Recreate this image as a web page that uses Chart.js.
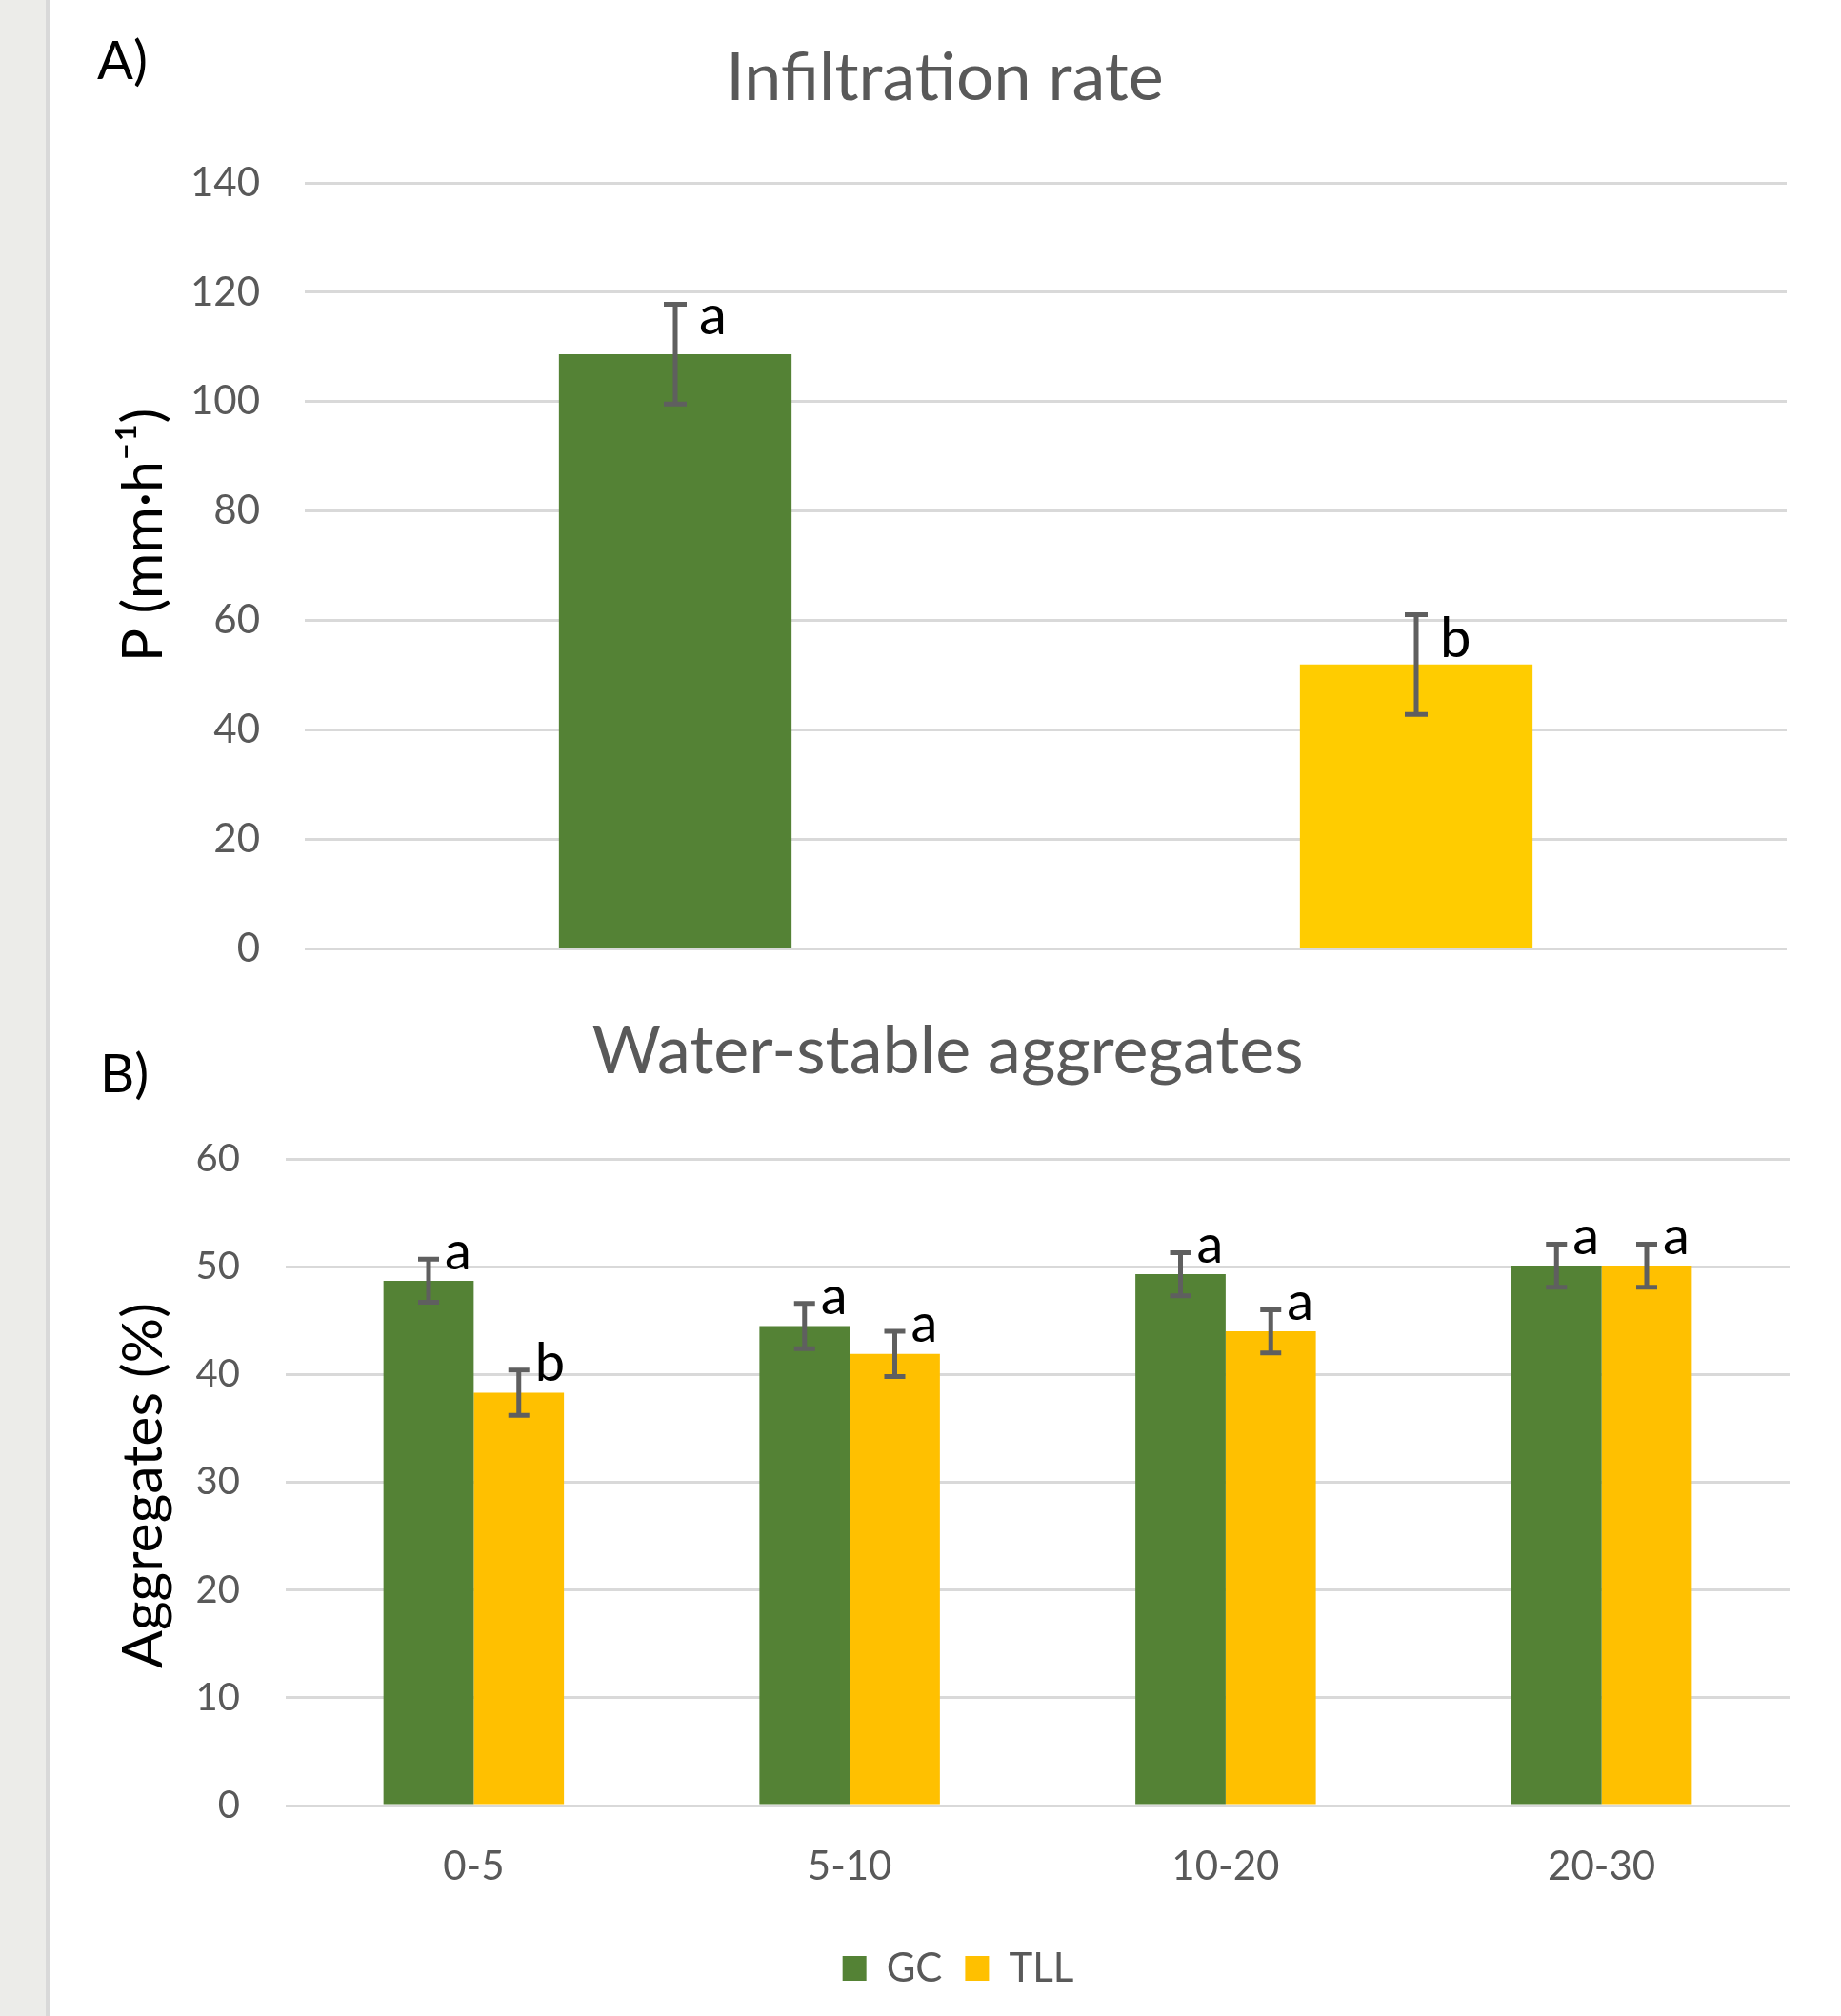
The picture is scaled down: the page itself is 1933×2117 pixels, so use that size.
<!DOCTYPE html>
<html>
<head>
<meta charset="utf-8">
<script src="https://cdn.jsdelivr.net/npm/chart.js@4.4.1/dist/chart.umd.min.js"></script>
<style>
  body { margin: 0; width: 1933px; height: 2117px; background: #fff; position: relative; overflow: hidden; }
  #strip { position: absolute; left: 0; top: 0; width: 48px; height: 2117px; background: #ecece9; border-right: 5px solid #d9d9d9; z-index: 2; }
  #wrapA { position: absolute; left: 0; top: 0; }
  #wrapB { position: absolute; left: 0; top: 1030px; }
</style>
</head>
<body>
<div id="strip"></div>
<div id="wrapA"><canvas id="chartA" width="1933" height="1069"></canvas></div>
<div id="wrapB"><canvas id="chartB" width="1933" height="1087"></canvas></div>
<script>
// panel A - infiltration rate
const infilLabels = ["GC", "TLL"];
const infilMeans = [108.7, 52.0];
const infilErrors = [9.1, 9.1];
const infilLetters = ["a", "b"];
const infilColors = ["#548235", "#ffcc00"];

// panel B - water-stable aggregates by depth
const depthLabels = ["0-5", "5-10", "10-20", "20-30"];
const gcMeans = [48.7, 44.5, 49.3, 50.1];
const gcErrors = [2.0, 2.1, 2.0, 2.0];
const gcLetters = ["a", "a", "a", "a"];
const tllMeans = [38.3, 41.9, 44.0, 50.1];
const tllErrors = [2.1, 2.1, 2.0, 2.0];
const tllLetters = ["b", "a", "a", "a"];

Chart.defaults.font.family = "Lato";
Chart.defaults.color = "#595959";

// draws error bars + significance letters on top of each bar
const errorBars = {
  id: "errorBars",
  afterDatasetsDraw(chart, args, opts) {
    const ctx = chart.ctx;
    const y = chart.scales.y;
    chart.data.datasets.forEach((ds, di) => {
      chart.getDatasetMeta(di).data.forEach((bar, i) => {
        const hi = y.getPixelForValue(ds.data[i] + ds.errors[i]);
        const lo = y.getPixelForValue(ds.data[i] - ds.errors[i]);
        ctx.save();
        ctx.strokeStyle = "#5f5f5f";
        ctx.lineWidth = opts.width;
        ctx.beginPath();
        ctx.moveTo(bar.x, hi); ctx.lineTo(bar.x, lo);
        ctx.moveTo(bar.x - opts.cap, hi); ctx.lineTo(bar.x + opts.cap, hi);
        ctx.moveTo(bar.x - opts.cap, lo); ctx.lineTo(bar.x + opts.cap, lo);
        ctx.stroke();

        ctx.fillStyle = "#000";
        ctx.font = opts.letterSize + "px Lato";
        ctx.textAlign = "left";
        ctx.textBaseline = "alphabetic";
        const m = ctx.measureText(ds.letters[i]);
        let ty = hi + opts.dy;
        if (opts.topAlign) ty += m.actualBoundingBoxAscent;
        ctx.fillText(ds.letters[i], bar.x + opts.dx, ty);
        ctx.restore();
      });
    });
  }
};

// panel letter, chart title and rotated y title
const panelText = {
  id: "panelText",
  afterDraw(chart, args, o) {
    const ctx = chart.ctx;
    ctx.save();
    ctx.textBaseline = "alphabetic";
    ctx.fillStyle = "#000";
    ctx.font = "56px Lato";
    ctx.textAlign = "left";
    ctx.fillText(o.panel, o.panelX, o.panelY);

    ctx.fillStyle = "#595959";
    ctx.font = "70px Lato";
    ctx.textAlign = "center";
    ctx.fillText(o.title, o.titleX, o.titleY);

    ctx.translate(o.yTitleX, o.yTitleY);
    ctx.rotate(-Math.PI / 2);
    ctx.fillStyle = "#000";
    ctx.font = "59px Lato";
    ctx.textAlign = "center";
    ctx.fillText(o.yTitle, 0, 0);
    ctx.restore();
  }
};

new Chart(document.getElementById("chartA"), {
  type: "bar",
  data: {
    labels: infilLabels,
    datasets: [{
      label: "Infiltration",
      data: infilMeans,
      errors: infilErrors,
      letters: infilLetters,
      backgroundColor: infilColors,
      borderWidth: 0,
      barPercentage: 0.314,
      categoryPercentage: 1
    }]
  },
  options: {
    responsive: false,
    animation: false,
    layout: { padding: { left: 0, right: 57, top: 192, bottom: 35 } },
    scales: {
      x: { display: false },
      y: {
        min: 0, max: 140,
        ticks: { stepSize: 20, padding: 47, color: "#595959", font: { size: 42 } },
        grid: { color: "#d9d9d9", lineWidth: 3, drawTicks: false },
        border: { display: false },
        afterFit(scale) { scale.width = 320; }
      }
    },
    plugins: {
      legend: { display: false },
      tooltip: { enabled: false },
      errorBars: { width: 5, cap: 12, letterSize: 58, dx: 25, dy: 1, topAlign: true },
      panelText: {
        panel: "A)", panelX: 102, panelY: 83,
        title: "Infiltration rate", titleX: 992, titleY: 105,
        yTitle: "P (mm·h⁻¹)", yTitleX: 170, yTitleY: 562
      }
    }
  },
  plugins: [errorBars, panelText]
});

new Chart(document.getElementById("chartB"), {
  type: "bar",
  data: {
    labels: depthLabels,
    datasets: [
      { label: "GC", data: gcMeans, errors: gcErrors, letters: gcLetters, backgroundColor: "#548235", borderWidth: 0 },
      { label: "TLL", data: tllMeans, errors: tllErrors, letters: tllLetters, backgroundColor: "#ffc000", borderWidth: 0 }
    ]
  },
  options: {
    responsive: false,
    animation: false,
    datasets: { bar: { barPercentage: 1, categoryPercentage: 0.48 } },
    layout: { padding: { left: 133, right: 54, top: 187, bottom: 19 } },
    scales: {
      x: {
        ticks: { padding: 31, color: "#595959", font: { size: 42 } },
        grid: { display: false },
        border: { display: false },
        afterFit(scale) { scale.height = 126; }
      },
      y: {
        min: 0, max: 60,
        ticks: { stepSize: 10, padding: 48, color: "#595959", font: { size: 40 } },
        grid: { color: "#d9d9d9", lineWidth: 3, drawTicks: false },
        border: { display: false },
        afterFit(scale) { scale.width = 167; }
      }
    },
    plugins: {
      legend: {
        position: "bottom",
        labels: { boxWidth: 25, boxHeight: 26, padding: 24, color: "#595959", font: { size: 42 } }
      },
      tooltip: { enabled: false },
      errorBars: { width: 5, cap: 11, letterSize: 56, dx: 17, dy: 11, topAlign: false },
      panelText: {
        panel: "B)", panelX: 105, panelY: 117,
        title: "Water-stable aggregates", titleX: 995, titleY: 97,
        yTitle: "Aggregates (%)", yTitleX: 170, yTitleY: 530
      }
    }
  },
  plugins: [errorBars, panelText]
});
</script>
</body>
</html>
